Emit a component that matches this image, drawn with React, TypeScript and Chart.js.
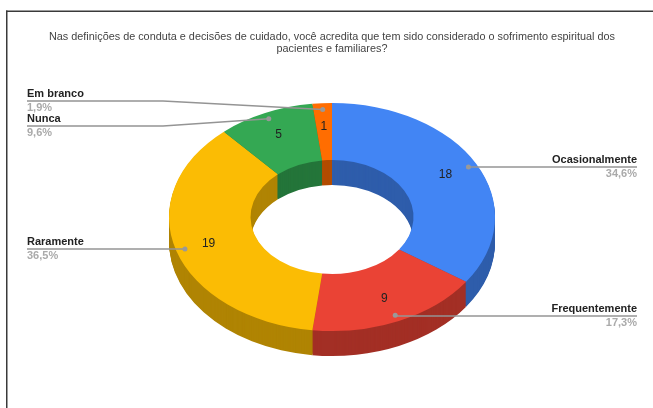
import React, { useEffect, useRef } from "react";
import { Chart, registerables } from "chart.js";

Chart.register(...registerables);

const categories = ["Ocasionalmente", "Frequentemente", "Raramente", "Nunca", "Em branco"];
const counts = [18, 9, 19, 5, 1];
const shares = ["34,6%", "17,3%", "36,5%", "9,6%", "1,9%"];
const faceColors = ["#4285f4", "#ea4335", "#fbbc04", "#34a853", "#ff6d01"];
const sideColors = ["#2e5dab", "#a32f25", "#b08403", "#24753a", "#b34c01"];
const titleLines = [
  "Nas definições de conduta e decisões de cuidado, você acredita que tem sido considerado o sofrimento espiritual dos",
  "pacientes e familiares?",
];

// Callout rows: where each leader line ends and, for the upper two, where it bends.
const calloutRows = [
  { lineY: 167, side: "right", bend: false },
  { lineY: 316, side: "right", bend: false },
  { lineY: 249, side: "left", bend: false },
  { lineY: 126, side: "left", bend: true },
  { lineY: 101, side: "left", bend: true },
];

const FONT = '"Liberation Sans", Arial, sans-serif';
const SQUASH = 114 / 163; // vertical flattening of the ring
const TILT_CENTER_Y = 217;
const DEPTH = 25;
const LEFT_EDGE = 27;
const RIGHT_EDGE = 637;
const BEND_X = 163;
const DOT_RADIUS = 0.945;
const VALUE_RADIUS = 0.79;

type Arc = {
  x: number;
  y: number;
  startAngle: number;
  endAngle: number;
  innerRadius: number;
  outerRadius: number;
};

const arcProps = (chart: any): Arc[] =>
  chart
    .getDatasetMeta(0)
    .data.map((el: any) =>
      el.getProps(["x", "y", "startAngle", "endAngle", "innerRadius", "outerRadius"], true)
    );

const tilt = (ctx: CanvasRenderingContext2D, cy: number, drop: number) => {
  ctx.translate(0, TILT_CENTER_Y + drop);
  ctx.scale(1, SQUASH);
  ctx.translate(0, -cy);
};

// Projects a point at a fraction of the outer radius through the same flattening.
const project = (a: Arc, fraction: number) => {
  const mid = (a.startAngle + a.endAngle) / 2;
  return {
    x: a.x + Math.cos(mid) * a.outerRadius * fraction,
    y: TILT_CENTER_Y + Math.sin(mid) * a.outerRadius * fraction * SQUASH,
  };
};

const ringPlugin = {
  id: "tiltedRing",
  beforeDraw(chart: any) {
    const { ctx, width, height } = chart;
    ctx.save();
    ctx.fillStyle = "#ffffff";
    ctx.fillRect(0, 0, width, height);
    ctx.fillStyle = "#3a3a3a";
    ctx.fillRect(6, 10.5, width - 6, 1.5);
    ctx.fillRect(6, 10.5, 1.5, height - 10.5);
    ctx.restore();
  },
  beforeDatasetDraw(chart: any) {
    const { ctx } = chart;
    const arcs = arcProps(chart);
    // Side walls: stacked copies of the ring, deepest first.
    for (let drop = DEPTH; drop >= 1; drop--) {
      arcs.forEach((a, i) => {
        ctx.save();
        tilt(ctx, a.y, drop);
        ctx.beginPath();
        ctx.arc(a.x, a.y, a.outerRadius, a.startAngle, a.endAngle);
        ctx.arc(a.x, a.y, a.innerRadius, a.endAngle, a.startAngle, true);
        ctx.closePath();
        ctx.fillStyle = sideColors[i];
        ctx.fill();
        ctx.restore();
      });
    }
    ctx.save();
    tilt(ctx, arcs[0].y, 0);
  },
  afterDatasetDraw(chart: any) {
    chart.ctx.restore();
  },
  afterDraw(chart: any) {
    const { ctx } = chart;
    const arcs = arcProps(chart);
    ctx.save();
    arcs.forEach((a, i) => {
      const row = calloutRows[i];
      const dot = project(a, DOT_RADIUS);
      const edge = row.side === "left" ? LEFT_EDGE : RIGHT_EDGE;

      ctx.strokeStyle = "#949494";
      ctx.lineWidth = 1.5;
      ctx.beginPath();
      ctx.moveTo(edge, row.lineY);
      if (row.bend) ctx.lineTo(BEND_X, row.lineY);
      ctx.lineTo(dot.x, row.bend ? dot.y : row.lineY);
      ctx.stroke();

      ctx.fillStyle = "#999999";
      ctx.beginPath();
      ctx.arc(dot.x, dot.y, 2.5, 0, Math.PI * 2);
      ctx.fill();

      ctx.textAlign = row.side === "left" ? "left" : "right";
      ctx.textBaseline = "middle";
      ctx.font = `bold 11px ${FONT}`;
      ctx.fillStyle = "#222222";
      ctx.fillText(categories[i], edge, row.lineY - 7);
      ctx.fillStyle = "#aaaaaa";
      ctx.fillText(shares[i], edge, row.lineY + 7);

      const mid = project(a, VALUE_RADIUS);
      ctx.textAlign = "center";
      ctx.font = `12px ${FONT}`;
      ctx.fillStyle = "#222222";
      ctx.fillText(String(counts[i]), mid.x - 0.5, mid.y);
    });
    ctx.restore();
  },
};

export default function App() {
  const canvasRef = useRef<HTMLCanvasElement | null>(null);

  useEffect(() => {
    document.body.style.margin = "0";
    const chart = new Chart(canvasRef.current as HTMLCanvasElement, {
      type: "doughnut",
      data: {
        labels: categories,
        datasets: [
          {
            data: counts,
            backgroundColor: faceColors,
            borderWidth: 0,
            clip: false,
          } as any,
        ],
      },
      options: {
        responsive: false,
        animation: false,
        cutout: "50%",
        layout: { padding: { left: 11, right: 0, top: 0, bottom: 27 } },
        plugins: {
          legend: { display: false },
          tooltip: { enabled: false },
          title: {
            display: true,
            text: titleLines,
            color: "#444444",
            font: { family: FONT, size: 10.85, weight: "normal", lineHeight: "12px" },
            padding: { top: 31, bottom: 0 },
          },
        },
      },
      plugins: [ringPlugin],
    });
    return () => chart.destroy();
  }, []);

  return <canvas ref={canvasRef} width={653} height={408} style={{ display: "block" }} />;
}
